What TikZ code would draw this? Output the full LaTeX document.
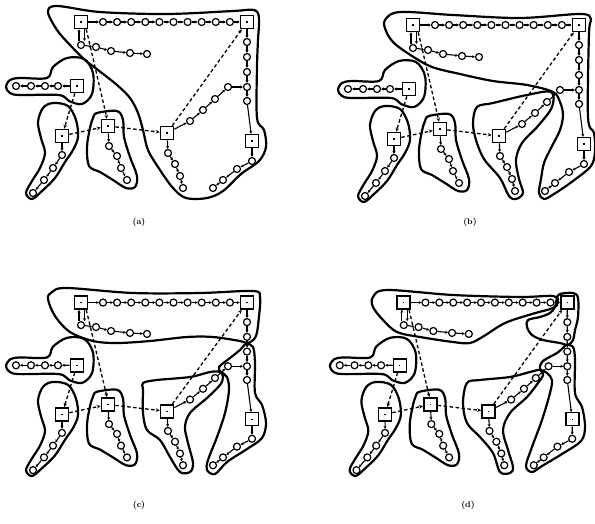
\documentclass[tikz,border=0pt]{standalone}
\usetikzlibrary{arrows.meta}
\tikzset{
  sq/.style={draw, line width=1.6pt, fill=white, minimum size=13pt, inner sep=0pt},
  cir/.style={circle, draw, line width=1.2pt, fill=white, minimum size=7pt, inner sep=0pt},
  lnk/.style={line width=1.1pt, -{Stealth[length=2.8pt,width=3pt]}},
  dsh/.style={line width=1.3pt, dash pattern=on 3.5pt off 2.5pt, -{Stealth[length=4pt,width=3.6pt]}},
  blob/.style={line width=2.2pt, line join=round},
  lab/.style={font=\fontsize{8.5}{9}\selectfont\bfseries},
}
\newcommand\blobpath[1]{\draw[blob] plot[smooth cycle, tension=0.55] coordinates {#1};}
\newcommand\dotmark{\rule{1.3pt}{1.3pt}}
\newcommand\leftblobs{%
  % keyhole around s3
  \blobpath{(6,87) (10,80) (20,78) (47,78) (53,67) (67,58) (84,59) (93,73) (92,94) (82,104) (69,101) (59,95) (20,95) (10,93)}
  % around s7
  \blobpath{(53,103) (68,106) (76,120) (78,137) (73,150) (65,162) (55,178) (42,191) (32,199) (26,193) (32,181) (40,168) (45,153) (41,138) (38,122) (43,108)}
  % around s4
  \blobpath{(97,113) (117,111) (123,120) (124,137) (130,157) (137,176) (135,187) (126,188) (113,180) (100,172) (89,166) (87,147) (90,128) (93,118)}
}
\newcommand\skel[1]{%
  \leftblobs
  % squares
  \node[sq] (#1s1) at (81,22) {\dotmark};
  \node[sq] (#1s2) at (247,22) {\dotmark};
  \node[sq] (#1s3) at (77,86) {\dotmark};
  \node[sq] (#1s7) at (62,136) {\dotmark};
  \node[sq] (#1s4) at (108,126) {\dotmark};
  \node[sq] (#1sA) at (167,133) {\dotmark};
  \node[sq] (#1s6) at (252,141) {\dotmark};
  % circles
  \foreach \i in {1,...,10} {\node[cir] (#1t\i) at ({103+14.1*(\i-1)},22) {};}
  \foreach \n/\x/\y in {u1/81/45, u2/96/47, u3/111/51, u4/130/53, u5/147/54,
      l1/58/86, l2/45/86, l3/31/86, l4/16/86,
      a1/62/155, a2/53/168, a3/44/180, a4/33/193,
      b1/109/146, b2/117/156, b3/121/168, b4/127/180,
      d1/168/153, d2/175/164, d3/180/176, d4/183/188,
      e1/190/121, e2/203/110, e3/215/99, e4/228/87,
      r1/247/42, r2/247/57, r3/247/72, r4/247/87, r5/247/101,
      f1/252/161, f2/237/169, f3/223/180, f4/213/188}
    {\node[cir] (#1\n) at (\x,\y) {};}
  % chain links
  \foreach \p/\q in {s1/t1, t1/t2, t2/t3, t3/t4, t4/t5, t5/t6, t6/t7, t7/t8, t8/t9, t9/t10, t10/s2,
      u1/u2, u2/u3, u3/u4, u4/u5,
      s3/l1, l1/l2, l2/l3, l3/l4,
      s7/a1, a1/a2, a2/a3, a3/a4,
      s4/b1, b1/b2, b2/b3, b3/b4,
      sA/d1, d1/d2, d2/d3, d3/d4,
      sA/e1, e1/e2, e2/e3, e3/e4, e4/r4,
      s2/r1, r1/r2, r2/r3, r3/r4, r4/r5, r5/s6,
      s6/f1, f1/f2, f2/f3, f3/f4}
    {\draw[lnk] (#1\p) -- (#1\q);}
  \draw[lnk] ([xshift=-2pt]#1u1.north) -- ([xshift=-2pt]#1s1.south);
  \draw[lnk] ([xshift=3.5pt]#1s1.south) -- ([xshift=3.5pt]#1u1.north);
  % dashed links
  \draw[dsh] ([xshift=-2pt]#1s1.south east) -- ([xshift=-1pt]#1s4.north);
  \draw[dsh] (#1s3) -- (#1s7);
  \draw[dsh] (#1s7) -- (#1s4);
  \draw[dsh] (#1s4) -- (#1sA);
  \draw[dsh] (#1sA) -- (#1s2);
}
\begin{document}
\begin{tikzpicture}[x=1pt,y=-1pt]
\useasboundingbox (0,0) rectangle (595,523);
\fill[white] (0,0) rectangle (595,523);

% ---------------- panel (a)
\begin{scope}
  \blobpath{(48,12) (57,6) (100,12) (167,14) (233,11) (254,10) (259,18) (258,40) (257,67) (257,118) (264,130) (266,147) (259,161) (241,174) (223,191) (207,198) (186,198) (173,188) (160,170) (148,150) (143,130) (138,113) (130,98) (117,85) (98,70) (85,60) (70,45) (57,30)}
  \skel{a}
\end{scope}
\node[lab] (la) at (139,222) {(a)};

% ---------------- panel (b)
\begin{scope}[shift={(332,3)}]
  \blobpath{(54,28) (53,17) (68,9) (121,12) (188,15) (248,11) (259,16) (257,30) (256,114) (262,130) (263,148) (259,163) (241,178) (222,191) (212,196) (207,190) (209,176) (212,160) (219,145) (228,127) (231,112) (228,99) (221,89) (195,82) (161,78) (128,71) (100,64) (80,53) (62,40)}
  \blobpath{(145,104) (161,100) (195,92) (219,89) (220,104) (206,123) (190,140) (184,157) (187,176) (191,190) (184,196) (177,193) (168,175) (152,156) (144,137) (141,120)}
  \skel{b}
\end{scope}
\node[lab] (lb) at (470,222) {(b)};

% ---------------- panel (c)
\begin{scope}[shift={(0,281)}]
  \blobpath{(48,18) (55,35) (70,51) (93,60) (117,62) (150,60) (187,56) (213,56) (240,60) (248,62) (256,55) (259,35) (260,16) (253,10) (200,12) (133,12) (67,7) (52,11)}
  \blobpath{(143,102) (157,99) (190,96) (210,91) (220,91) (223,96) (220,104) (207,117) (190,132) (185,146) (188,162) (193,182) (190,191) (180,191) (170,176) (160,159) (147,149) (143,132) (143,109)}
  \blobpath{(219,86) (230,77) (240,69) (246,63) (253,66) (255,82) (255,112) (262,124) (266,142) (262,157) (247,168) (227,181) (215,193) (207,189) (208,179) (217,156) (225,132) (229,109) (227,96) (221,91)}
\end{scope}
\begin{scope}[shift={(0,281)}, yscale=0.98]
  \skel{c}
\end{scope}
\node[lab] (lc) at (139,505) {(c)};

% ---------------- panel (d)
\begin{scope}[shift={(322,281)}]
  \blobpath{(51,16) (65,9) (131,14) (198,16) (231,15) (236,21) (231,27) (210,33) (183,42) (162,55) (148,62) (131,61) (98,56) (75,51) (61,39) (51,26)}
  \blobpath{(238,13) (251,12) (256,17) (256,36) (253,49) (251,59) (246,64) (238,62) (221,59) (210,54) (205,46) (206,39) (218,36) (228,32) (233,26) (235,17)}
  \blobpath{(244,64) (251,66) (253,79) (253,112) (260,126) (263,146) (259,160) (240,173) (220,185) (210,191) (204,185) (210,166) (220,139) (228,112) (230,99) (225,92) (218,88) (221,80) (235,72) (242,66)}
  \blobpath{(145,102) (158,99) (188,96) (208,91) (218,89) (221,94) (216,102) (205,116) (188,132) (181,149) (186,169) (191,186) (188,192) (178,191) (171,172) (158,156) (145,142) (141,122)}
\end{scope}
\begin{scope}[shift={(324,281)}, xscale=0.985, yscale=0.98]
  \skel{d}
\end{scope}
\node[lab] (ld) at (468,505) {(d)};
\end{tikzpicture}
\end{document}
